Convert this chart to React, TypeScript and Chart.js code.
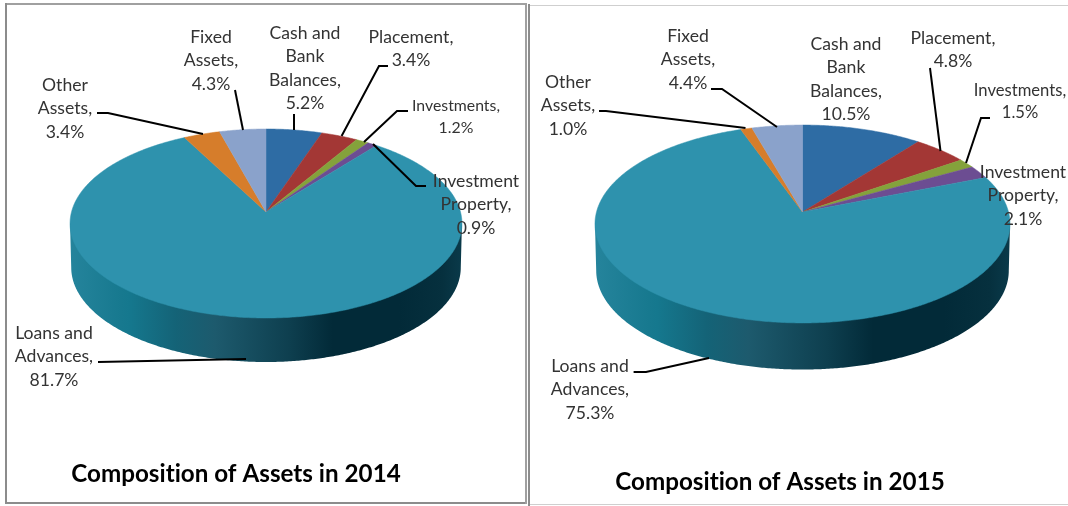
import React, { useEffect, useRef } from "react";
import { Chart, registerables } from "chart.js";

Chart.register(...registerables);

const categories = ["Cash and Bank Balances", "Placement", "Investments", "Investment Property", "Loans and Advances", "Other Assets", "Fixed Assets"];
const labelLines = [["Cash and", "Bank", "Balances,"], ["Placement,"], ["Investments,"], ["Investment", "Property,"], ["Loans and", "Advances,"], ["Other", "Assets,"], ["Fixed", "Assets,"]];
const values2014 = [5.2, 3.4, 1.2, 0.9, 81.7, 3.4, 4.3];
const values2015 = [10.5, 4.8, 1.5, 2.1, 75.3, 1.0, 4.4];
const title2014 = "Composition of Assets in 2014";
const title2015 = "Composition of Assets in 2015";
const sliceColors = ["#2e6ca4", "#a33735", "#84a23b", "#6c4d92", "#2e92ad", "#d67d2b", "#8aa2cb"];
const sideStops: [number, string][] = [[0, "#25849c"], [0.13, "#17798f"], [0.15, "#15788e"], [0.27, "#146377"], [0.37, "#1d5a6d"], [0.56, "#0e3f4f"], [0.67, "#022a38"], [0.84, "#022a38"], [0.95, "#06303e"], [1, "#0a3a4a"]];

const FONT = "Lato, sans-serif";
const LINE = 23.6;

type Layout = {
  left: number; width: number; cx: number; apexY: number; a: number; b: number; k: number; depth: number; xRange: [number, number];
  titleX: number; titleY: number; title: string; smallFont: number;
  labels: [number, number][]; leaders: [number, number][][];
};

const layout2014: Layout = {
  left: 0, width: 528, cx: 266, apexY: 212, a: 93.1, b: 194.5, k: -0.1217, depth: 44, xRange: [70, 462],
  titleX: 236, titleY: 474, title: title2014, smallFont: 15.8,
  labels: [[305, 33], [411, 37], [456, 106], [476, 181], [54, 333], [65, 85], [211, 37]],
  leaders: [
    [[294, 114], [294, 130]],
    [[388, 66], [379, 66], [341.6, 136]],
    [[408, 111], [397, 111], [364, 142]],
    [[426, 186], [416, 186], [373, 144]],
    [[98, 362], [246, 359]],
    [[97, 113], [108, 113], [203, 134]],
    [[235, 90], [243, 130]],
  ],
};

const layout2015: Layout = {
  left: 528, width: 540, cx: 802.5, apexY: 212, a: 97.5, b: 206, k: -0.1212, depth: 46.6, xRange: [595, 1010],
  titleX: 780, titleY: 482, title: title2015, smallFont: 16.6,
  labels: [[846, 44], [953, 38], [1020, 91], [1023, 172], [590, 366], [568, 82], [688, 36]],
  leaders: [
    [],
    [[930, 68], [940.5, 151]],
    [[990, 118], [981, 118], [966, 163]],
    [],
    [[633.6, 372], [646, 372], [709, 358]],
    [[599, 111], [606, 111], [745.5, 128]],
    [[711, 89], [722, 89], [777, 127]],
  ],
};

function project(l: Layout, angle: number): [number, number] {
  const u = Math.cos(angle);
  const v = Math.sin(angle);
  const w = 1 + l.k * v;
  return [l.cx + (l.b * u) / w, l.apexY + (l.a * v) / w];
}

function makePlugin(l: Layout, values: number[]) {
  return {
    id: "perspectivePie",
    beforeDatasetDraw(chart: any) {
      const ctx = chart.ctx as CanvasRenderingContext2D;
      const arcs = chart.getDatasetMeta(0).data as any[];
      ctx.save();
      ctx.translate(-l.left, 0);

      // Side wall of the disc, following the front half of the rim.
      const front: [number, number][] = [];
      let lo = 0, hi = 0;
      const pts: [number, number][] = [];
      for (let i = 0; i < 720; i++) pts.push(project(l, (i / 720) * 2 * Math.PI));
      pts.forEach((p, i) => { if (p[0] < pts[lo][0]) lo = i; if (p[0] > pts[hi][0]) hi = i; });
      for (let i = hi; i <= lo; i++) front.push(pts[i]);
      const g = ctx.createLinearGradient(l.xRange[0], 0, l.xRange[1], 0);
      sideStops.forEach(([o, c]) => g.addColorStop(o, c));
      ctx.beginPath();
      ctx.moveTo(front[0][0], front[0][1]);
      front.forEach((p) => ctx.lineTo(p[0] + (l.cx - p[0]) * 0.006, p[1] + l.depth));
      ctx.lineTo(front[front.length - 1][0], front[front.length - 1][1]);
      ctx.closePath();
      ctx.fillStyle = g;
      ctx.fill();

      // Top face: each slice takes its angles from the library's arc element.
      arcs.forEach((arc, i) => {
        const s = arc.startAngle as number;
        const e = arc.endAngle as number;
        const n = Math.max(4, Math.ceil((e - s) / 0.01));
        ctx.beginPath();
        ctx.moveTo(l.cx, l.apexY);
        for (let j = 0; j <= n; j++) {
          const p = project(l, s + ((e - s) * j) / n);
          ctx.lineTo(p[0], p[1]);
        }
        ctx.closePath();
        ctx.fillStyle = sliceColors[i];
        ctx.strokeStyle = sliceColors[i];
        ctx.lineWidth = 0.5;
        ctx.fill();
        ctx.stroke();
      });

      // Leader lines
      ctx.strokeStyle = "#000";
      ctx.lineWidth = 2;
      l.leaders.forEach((pl) => {
        if (!pl.length) return;
        ctx.beginPath();
        pl.forEach((p, i) => (i ? ctx.lineTo(p[0], p[1]) : ctx.moveTo(p[0], p[1])));
        ctx.stroke();
      });

      // Data labels
      ctx.textAlign = "center";
      ctx.textBaseline = "middle";
      (ctx as any).letterSpacing = "0.01px";
      ctx.fillStyle = "#333";
      labelLines.forEach((lines, i) => {
        const small = i === 2;
        ctx.font = `${small ? l.smallFont : 17.6}px ${FONT}`;
        const all = [...lines, values[i].toFixed(1) + "%"];
        all.forEach((t, j) => ctx.fillText(t, l.labels[i][0], l.labels[i][1] + j * (small ? 22 : LINE)));
      });

      // Title
      ctx.fillStyle = "#000";
      ctx.font = `bold 24.2px ${FONT}`;
      ctx.fillText(l.title, l.titleX, l.titleY);

      ctx.restore();
      return false;
    },
  };
}

function Panel({ l, values }: { l: Layout; values: number[] }) {
  const ref = useRef<HTMLCanvasElement>(null);
  useEffect(() => {
    const chart = new Chart(ref.current as HTMLCanvasElement, {
      type: "pie",
      data: { labels: categories, datasets: [{ data: values, backgroundColor: sliceColors }] },
      options: {
        responsive: false,
        animation: false,
        events: [],
        plugins: { legend: { display: false }, title: { display: false }, tooltip: { enabled: false } },
      },
      plugins: [makePlugin(l, values)],
    } as any);
    return () => chart.destroy();
  }, []);
  return <canvas ref={ref} width={l.width} height={506} style={{ position: "absolute", left: l.left, top: 0, width: l.width, height: 506 }} />;
}

const rule = (left: number, top: number, width: number, height: number, background: string) => (
  <div style={{ position: "absolute", left, top, width, height, background }} />
);

export default function App() {
  return (
    <div style={{ position: "fixed", left: 0, top: 0, width: 1068, height: 506, background: "#fff", overflow: "hidden" }}>
      <Panel l={layout2014} values={values2014} />
      <Panel l={layout2015} values={values2015} />
      {rule(5, 3, 522, 2, "#a0a0a0")}
      {rule(5, 502, 522, 2, "#8c8c8c")}
      {rule(5, 3, 2, 501, "#8c8c8c")}
      {rule(525, 3, 2, 501, "#a0a0a0")}
      {rule(528, 4, 2, 502, "#8c8c8c")}
      {rule(530, 5, 538, 1, "#cfcfcf")}
      {rule(530, 504, 538, 1, "#cfcfcf")}
    </div>
  );
}
